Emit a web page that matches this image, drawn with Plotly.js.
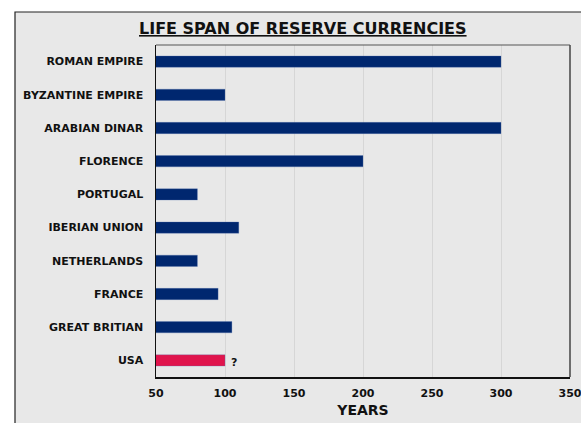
<!DOCTYPE html>
<html><head><meta charset="utf-8">
<script src="https://cdn.plot.ly/plotly-3.0.1.min.js"></script>
<style>html,body{margin:0;padding:0;background:#fff}#chart{width:581px;height:423px}</style>
</head><body><div id="chart"></div>
<script>
const categories = ["ROMAN EMPIRE","BYZANTINE EMPIRE","ARABIAN DINAR","FLORENCE","PORTUGAL","IBERIAN UNION","NETHERLANDS","FRANCE","GREAT BRITIAN","USA"];
const years = [300,100,300,200,80,110,80,95,105,100];
const barColors = ["#00276f","#00276f","#00276f","#00276f","#00276f","#00276f","#00276f","#00276f","#00276f","#e0144c"];
const xTicks = [50,100,150,200,250,300,350];
const titleText = "LIFE SPAN OF RESERVE CURRENCIES";
const xTitle = "YEARS";
const usaNote = "?";

const FONT = "DejaVu Sans, sans-serif";
const L=156, R=570, T=45, B=377;
const W=R-L, H=B-T;
const px = v => (v-L)/W;
const py = v => (B-v)/H;

const trace = {
  type:"bar", orientation:"h", y:categories, x:years, base:0,
  marker:{color:barColors, line:{color:"rgba(90,120,180,0.6)", width:0.5}},
  width:0.34, hoverinfo:"x+y"
};

const layout = {
  width:581, height:423,
  margin:{l:L, r:581-R, t:T, b:423-B, pad:0},
  paper_bgcolor:"#ffffff", plot_bgcolor:"rgba(0,0,0,0)",
  showlegend:false,
  font:{family:FONT, color:"#111"},
  xaxis:{range:[50,350], tickvals:xTicks, ticktext:xTicks.map(String),
    ticklabeloverflow:"allow",
    showgrid:true, gridcolor:"#d6d6d6", gridwidth:1, zeroline:false,
    showline:true, linecolor:"#111", linewidth:1.5,
    ticks:"outside", ticklen:5, tickcolor:"rgba(0,0,0,0)",
    tickfont:{family:FONT, size:11, color:"#111", weight:"bold"},
    title:{text:"<b>"+xTitle+"</b>", font:{family:FONT, size:14, color:"#111"}, standoff:6}},
  yaxis:{autorange:"reversed", type:"category", showgrid:false, zeroline:false,
    showline:true, linecolor:"#111", linewidth:1.5,
    ticks:"outside", ticklen:9, tickcolor:"rgba(0,0,0,0)",
    tickfont:{family:FONT, size:11, color:"#111", weight:"bold"}},
  shapes:[
    {type:"rect", xref:"paper", yref:"paper", x0:px(15), x1:px(620), y0:py(460), y1:py(12),
     fillcolor:"#e8e8e8", line:{color:"#222", width:1.2}, layer:"below"},
    {type:"line", xref:"paper", yref:"paper", x0:0, x1:1, y0:1, y1:1,
     line:{color:"#555", width:1.2}, layer:"above"},
    {type:"line", xref:"paper", yref:"paper", x0:1, x1:1, y0:0, y1:1,
     line:{color:"#444", width:1.5}, layer:"above"}
  ],
  annotations:[
    {text:"<b><u>"+titleText+"</u></b>", xref:"paper", yref:"paper", x:px(303), y:py(28),
     xanchor:"center", yanchor:"middle", showarrow:false, font:{family:FONT, size:16, color:"#111"}},
    {text:"<b>"+usaNote+"</b>", x:years[9], y:categories[9], xanchor:"left", yanchor:"middle",
     xshift:4, yshift:-2, showarrow:false, font:{family:FONT, size:11, color:"#111"}}
  ]
};
Plotly.newPlot("chart",[trace],layout,{displayModeBar:false, staticPlot:true});
</script></body></html>
